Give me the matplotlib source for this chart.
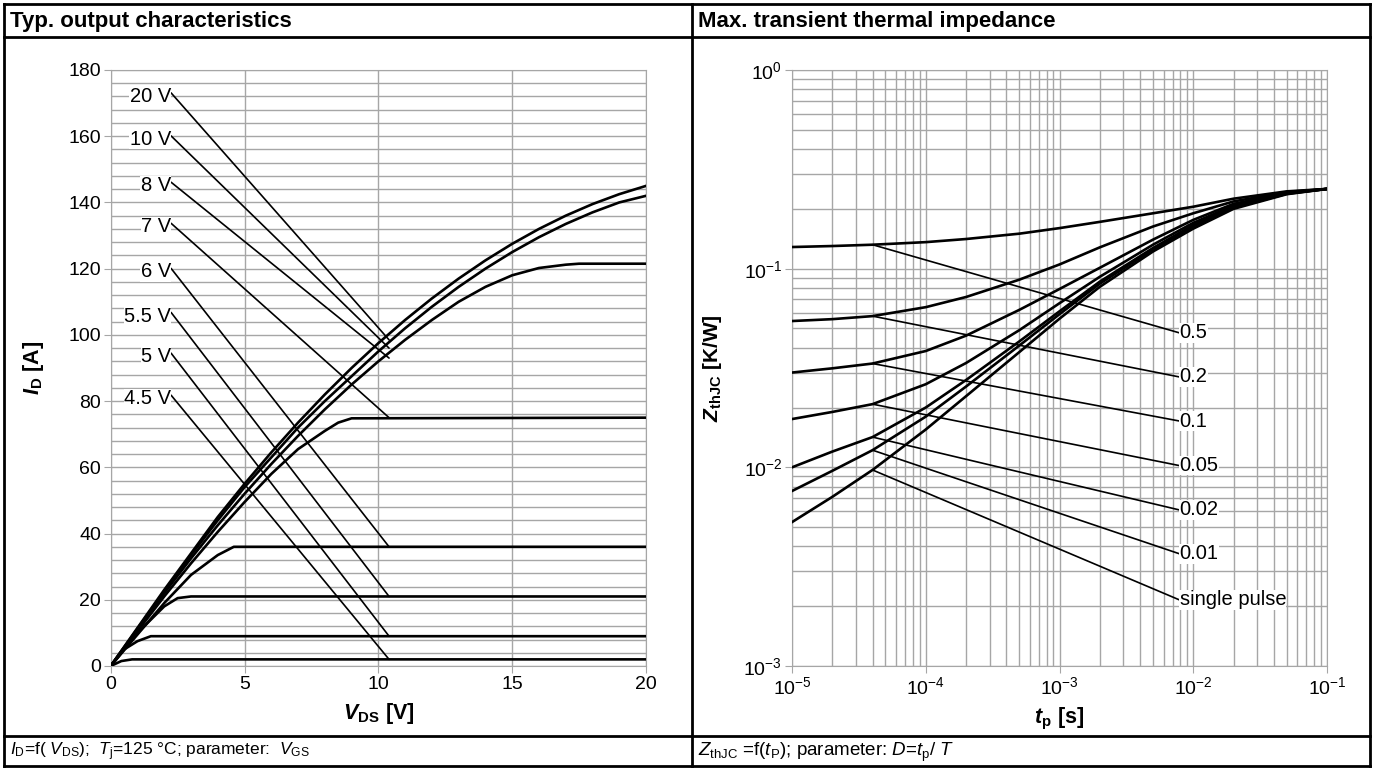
import matplotlib
matplotlib.use('Agg')
import matplotlib.pyplot as plt
import numpy as np
from matplotlib.lines import Line2D
from matplotlib.ticker import MultipleLocator, LogLocator, NullFormatter

plt.rcParams['font.family'] = ['Liberation Sans', 'DejaVu Sans']
plt.rcParams['mathtext.fontset'] = 'custom'
plt.rcParams['mathtext.rm'] = 'Liberation Sans'
plt.rcParams['mathtext.it'] = 'Liberation Sans:italic'
plt.rcParams['mathtext.bf'] = 'Liberation Sans:bold'
try:
    plt.rcParams['mathtext.bfit'] = 'Liberation Sans:bold:italic'
except KeyError:
    pass

# ---- output characteristics (I_D vs V_DS), Tj=125 C ----
vds = [0, 1, 2, 3, 4, 5, 6, 7, 8, 9, 10, 11, 12, 13, 14, 15, 16, 17, 18, 19, 20]
id_20v = [0, 11.5, 23, 34, 45, 55, 64.5, 73.5, 82, 90, 97.5, 104.5, 111, 117, 122.5, 127.5, 132, 136, 139.5, 142.5, 145]
id_10v = [0, 11.3, 22.5, 33.5, 44, 54, 63, 72, 80, 87.5, 95, 102, 108.5, 114.5, 120, 125, 129.5, 133.5, 137, 140, 142]
vds_8v = [0, 1, 2, 3, 4, 5, 6, 7, 8, 9, 10, 11, 12, 13, 14, 15, 16, 17, 17.5, 20]
id_8v = [0, 11, 22, 32.5, 42.5, 52, 61, 69.5, 77.5, 85, 92, 98.5, 104.5, 110, 114.5, 118, 120.2, 121.2, 121.5, 121.5]
vds_7v = [0, 1, 2, 3, 4, 5, 6, 7, 8, 8.5, 9, 20]
id_7v = [0, 10.5, 21, 31, 40.5, 49.5, 58, 65.5, 71, 73.5, 74.8, 75]
vds_6v = [0, 1, 2, 3, 4, 4.6, 20]
id_6v = [0, 9.5, 19, 27.5, 33.5, 36, 36]
vds_55v = [0, 1, 2, 2.5, 3, 20]
id_55v = [0, 10, 18, 20.5, 21, 21]
vds_5v = [0, 0.5, 1, 1.5, 20]
id_5v = [0, 5, 7.5, 9, 9]
vds_45v = [0, 0.4, 0.8, 20]
id_45v = [0, 1.5, 2, 2]

vgs_labels = ['20 V', '10 V', '8 V', '7 V', '6 V', '5.5 V', '5 V', '4.5 V']
vgs_label_y = [172, 159, 145, 132.6, 119, 105.7, 93.4, 80.7]
vgs_leader_end = [98.5, 96, 93, 75, 36, 21, 9, 2]

# ---- transient thermal impedance ----
tp = [1e-5, 2e-5, 4e-5, 1e-4, 2e-4, 5e-4, 1e-3, 2e-3, 5e-3, 1e-2, 2e-2, 5e-2, 1e-1]
z_05 = [0.1285, 0.130, 0.132, 0.136, 0.141, 0.150, 0.160, 0.172, 0.190, 0.205, 0.225, 0.245, 0.252]
z_02 = [0.0545, 0.0557, 0.0577, 0.0640, 0.0720, 0.088, 0.105, 0.128, 0.163, 0.190, 0.218, 0.243, 0.252]
z_01 = [0.030, 0.0315, 0.0333, 0.0385, 0.046, 0.062, 0.079, 0.101, 0.140, 0.176, 0.212, 0.241, 0.252]
z_005 = [0.0175, 0.0190, 0.0208, 0.0262, 0.0335, 0.049, 0.067, 0.091, 0.132, 0.170, 0.208, 0.240, 0.252]
z_002 = [0.0100, 0.0120, 0.0142, 0.0200, 0.0275, 0.043, 0.061, 0.086, 0.127, 0.166, 0.205, 0.239, 0.252]
z_001 = [0.0076, 0.0096, 0.0122, 0.0180, 0.0255, 0.041, 0.059, 0.084, 0.125, 0.163, 0.203, 0.238, 0.252]
z_single = [0.0053, 0.0071, 0.0097, 0.0155, 0.0228, 0.038, 0.056, 0.081, 0.122, 0.159, 0.200, 0.237, 0.252]

d_labels = ['0.5', '0.2', '0.1', '0.05', '0.02', '0.01', 'single pulse']
d_label_y = [0.0475, 0.0285, 0.0171, 0.0102, 0.0061, 0.00367, 0.00215]
d_label_x = 7.9e-3
d_leader_x = 4e-5

W, H = 1374, 769
fig = plt.figure(figsize=(W / 100, H / 100), dpi=100)

gray = '#a6a6a6'
lw_curve = 1.9
fs_tick = 14
fs_lab = 14.5

# table frame
def hline(y, x0, x1):
    fig.add_artist(Line2D([x0 / W, x1 / W], [1 - y / H, 1 - y / H], color='black', lw=2))

def vline(x, y0, y1):
    fig.add_artist(Line2D([x / W, x / W], [1 - y0 / H, 1 - y1 / H], color='black', lw=2))

hline(4, 4, 1370)
hline(37, 4, 1370)
hline(736, 4, 1370)
hline(766, 4, 1370)
vline(4, 4, 766)
vline(1370, 4, 766)
vline(692, 4, 766)

fig.text(10 / W, 1 - 21 / H, 'Typ. output characteristics', fontsize=16, fontweight='bold', va='center')
fig.text(698 / W, 1 - 21 / H, 'Max. transient thermal impedance', fontsize=16, fontweight='bold', va='center')
fig.text(10 / W, 1 - 752 / H,
         r'$\mathit{I}_{\mathrm{D}}$=f( $\mathit{V}_{\mathrm{DS}}$);  $\mathit{T}_{\mathrm{j}}$=125 °C; parameter:  $\mathit{V}_{\mathrm{GS}}$',
         fontsize=12.5, va='center')
fig.text(698 / W, 1 - 752 / H,
         r'$\mathit{Z}_{\mathrm{thJC}}$ =f($\mathit{t}_{\mathrm{P}}$); parameter: $\mathit{D}$=$\mathit{t}_{\mathrm{p}}$/ $\mathit{T}$',
         fontsize=13.5, va='center')

# ---------------- left chart ----------------
ax1 = fig.add_axes([110.7 / W, 1 - 666 / H, (646 - 110.7) / W, (666 - 70) / H])
ax1.plot(vds, id_20v, color='black', lw=lw_curve, zorder=3)
ax1.plot(vds, id_10v, color='black', lw=lw_curve, zorder=3)
ax1.plot(vds_8v, id_8v, color='black', lw=lw_curve, zorder=3)
ax1.plot(vds_7v, id_7v, color='black', lw=lw_curve, zorder=3)
ax1.plot(vds_6v, id_6v, color='black', lw=lw_curve, zorder=3)
ax1.plot(vds_55v, id_55v, color='black', lw=lw_curve, zorder=3)
ax1.plot(vds_5v, id_5v, color='black', lw=lw_curve, zorder=3)
ax1.plot(vds_45v, id_45v, color='black', lw=lw_curve, zorder=3)

for lab, ly, ye in zip(vgs_labels, vgs_label_y, vgs_leader_end):
    ax1.annotate(lab, xy=(10.4, ye), xytext=(2.25, ly), ha='right', va='center', fontsize=fs_lab,
                 bbox=dict(fc='white', ec='none', pad=0.2),
                 arrowprops=dict(arrowstyle='-', color='black', lw=1.2, shrinkA=0, shrinkB=0, relpos=(1, 0.7)),
                 zorder=4)

ax1.set_xlim(0, 20)
ax1.set_ylim(0, 180)
ax1.xaxis.set_major_locator(MultipleLocator(5))
ax1.yaxis.set_major_locator(MultipleLocator(20))
ax1.yaxis.set_minor_locator(MultipleLocator(4))
ax1.grid(True, which='major', color=gray, lw=1)
ax1.grid(True, which='minor', axis='y', color=gray, lw=1)
ax1.tick_params(which='major', direction='out', length=5, color=gray, labelsize=fs_tick, pad=2)
ax1.tick_params(which='minor', length=0)
for s in ax1.spines.values():
    s.set_color(gray)
ax1.set_axisbelow(True)
ax1.set_xlabel(r'$\mathbfit{V}_{\mathbf{DS}}$ [V]', fontsize=15.5, fontweight='bold', labelpad=6)
ax1.set_ylabel(r'$\mathbfit{I}_{\mathbf{D}}$ [A]', fontsize=15.5, fontweight='bold', labelpad=16)

# ---------------- right chart ----------------
ax2 = fig.add_axes([792 / W, 1 - 666 / H, (1327 - 792) / W, (666 - 70) / H])
curves = [z_05, z_02, z_01, z_005, z_002, z_001, z_single]
for z in curves:
    ax2.plot(tp, z, color='black', lw=lw_curve, zorder=3)

for lab, ly, z in zip(d_labels, d_label_y, curves):
    ys = np.interp(np.log10(d_leader_x), np.log10(tp), np.log10(z))
    ax2.annotate(lab, xy=(d_leader_x, 10 ** ys), xytext=(d_label_x, ly), ha='left', va='center', fontsize=fs_lab,
                 bbox=dict(fc='white', ec='none', pad=0.2),
                 arrowprops=dict(arrowstyle='-', color='black', lw=1.2, shrinkA=0, shrinkB=0, relpos=(0, 0.5)),
                 zorder=4)

ax2.set_xscale('log')
ax2.set_yscale('log')
ax2.set_xlim(1e-5, 1e-1)
ax2.set_ylim(1e-3, 1)
ax2.xaxis.set_major_locator(LogLocator(base=10, numticks=10))
ax2.yaxis.set_major_locator(LogLocator(base=10, numticks=10))
ax2.xaxis.set_minor_locator(LogLocator(base=10, subs=np.arange(2, 10), numticks=20))
ax2.yaxis.set_minor_locator(LogLocator(base=10, subs=np.arange(2, 10), numticks=20))
ax2.xaxis.set_minor_formatter(NullFormatter())
ax2.yaxis.set_minor_formatter(NullFormatter())
ax2.grid(True, which='both', color=gray, lw=1)
ax2.tick_params(which='major', direction='out', length=5, color=gray, labelsize=fs_tick, pad=2)
ax2.tick_params(which='minor', length=0)
for s in ax2.spines.values():
    s.set_color(gray)
ax2.set_axisbelow(True)
ax2.set_xlabel(r'$\mathbfit{t}_{\mathbf{p}}$ [s]', fontsize=15.5, fontweight='bold', labelpad=6)
ax2.set_ylabel(r'$\mathbfit{Z}_{\mathbf{thJC}}$ [K/W]', fontsize=15, fontweight='bold', labelpad=14)

fig.savefig('out.png', dpi=100)
